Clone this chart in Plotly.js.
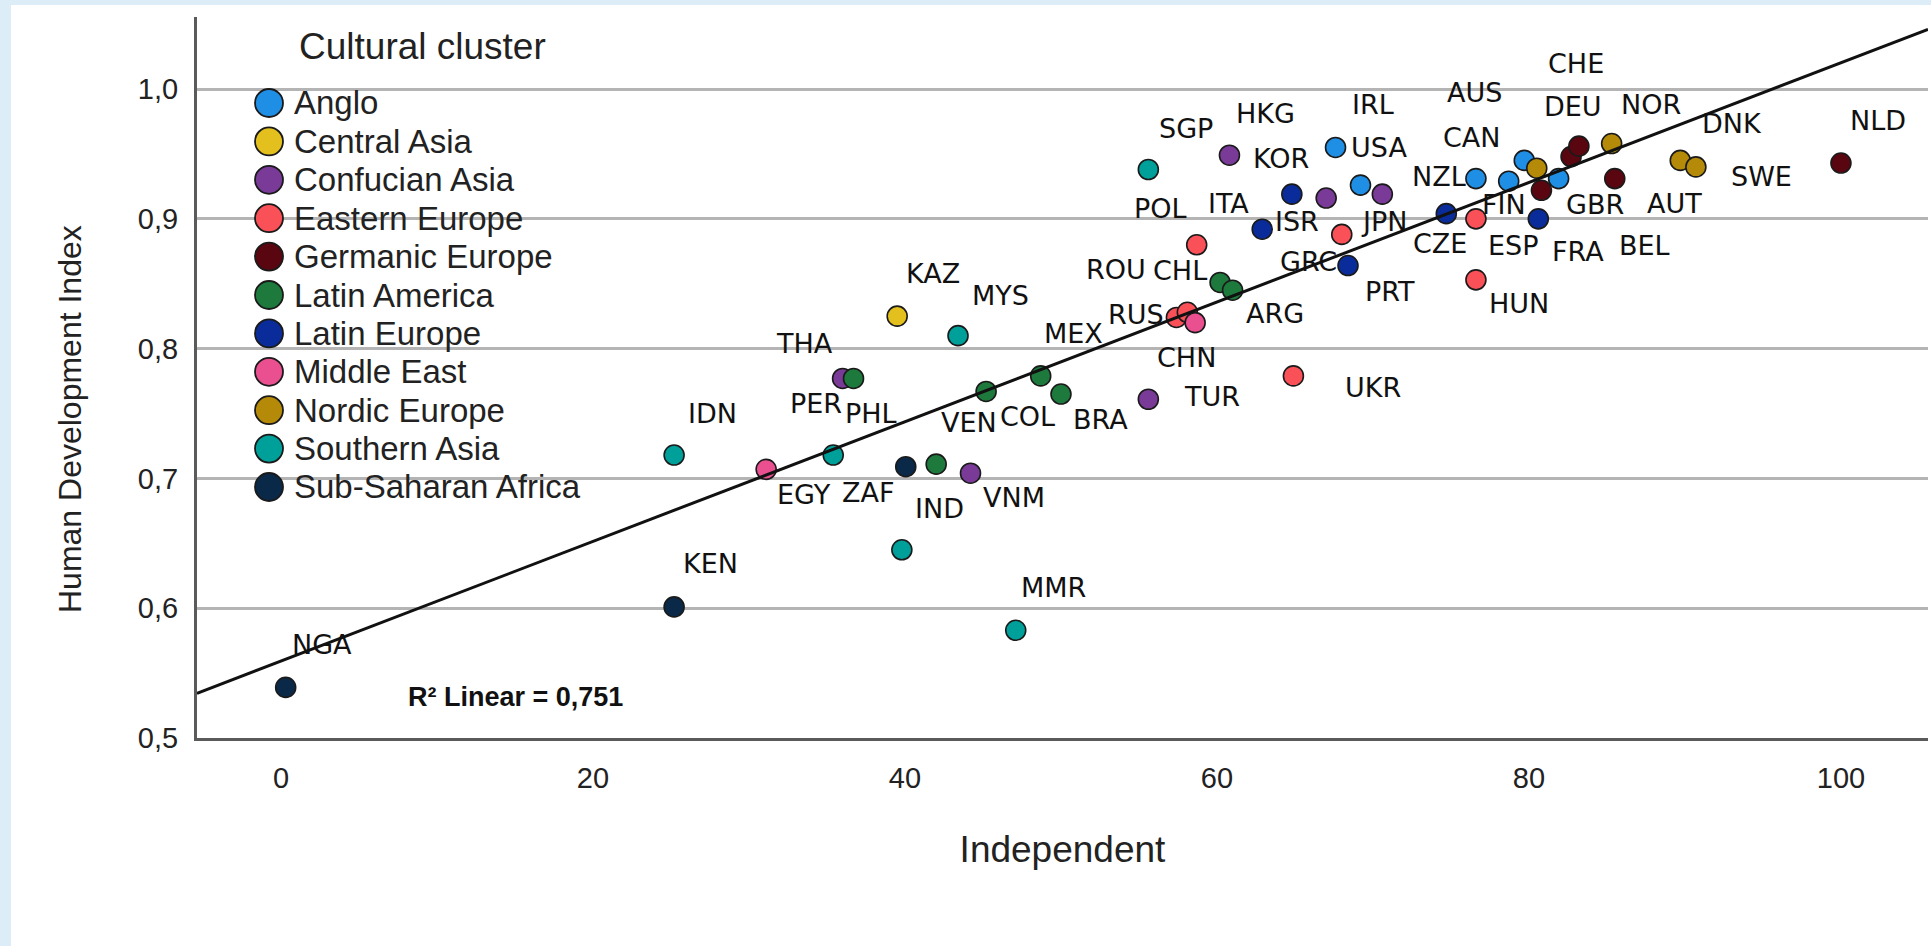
<!DOCTYPE html>
<html>
<head>
<meta charset="utf-8">
<script src="https://cdn.plot.ly/plotly-3.0.1.min.js"></script>
<style>
  html, body { margin: 0; padding: 0; background: #dcedf7; overflow: hidden; }
  #chart { position: absolute; left: 11px; top: 5px; width: 1920px; height: 941px; background: #ffffff; }
</style>
</head>
<body>
<div id="chart"></div>
<script>
// ---------------- DATA ----------------
const clusterNames = ['Anglo', 'Central Asia', 'Confucian Asia', 'Eastern Europe', 'Germanic Europe',
  'Latin America', 'Latin Europe', 'Middle East', 'Nordic Europe', 'Southern Asia', 'Sub-Saharan Africa'];

const countryCodes = ['NGA','KEN','IDN','EGY','PHL','THA','PER','ZAF','IND','KAZ','VEN','MYS','VNM','COL','MMR',
  'MEX','BRA','CHN','SGP','RUS','ROU','TUR','POL','CHL','HKG','ARG','ITA','ISR','UKR','KOR','IRL','GRC','PRT',
  'USA','JPN','ESP','NZL','CZE','HUN','CAN','AUS','FIN','FRA','AUT','GBR','DEU','CHE','NOR','BEL','SWE','DNK','NLD'];

const independentScore = [0.3, 25.2, 25.2, 31.1, 35.4, 36.0, 36.7, 40.05, 39.8, 39.5, 42.0, 43.4, 44.2, 45.2, 47.1,
  48.7, 50.0, 55.6, 55.6, 57.4, 58.1, 58.6, 58.7, 60.2, 60.8, 61.0, 62.9, 64.8, 64.9, 67.0, 67.6, 68.0, 68.4,
  69.2, 70.6, 74.7, 76.6, 76.6, 76.6, 78.7, 79.7, 80.5, 80.6, 80.8, 81.9, 82.7, 83.2, 85.3, 85.5, 89.7, 90.7, 100.0];

const hdiValues = [0.539, 0.601, 0.718, 0.707, 0.718, 0.777, 0.777, 0.709, 0.645, 0.825, 0.711, 0.810, 0.704, 0.767, 0.583,
  0.779, 0.765, 0.761, 0.938, 0.824, 0.828, 0.820, 0.880, 0.851, 0.949, 0.845, 0.892, 0.919, 0.779, 0.916, 0.955, 0.888, 0.864,
  0.926, 0.919, 0.904, 0.931, 0.900, 0.853, 0.929, 0.945, 0.939, 0.900, 0.922, 0.931, 0.948, 0.956, 0.958, 0.931, 0.945, 0.940, 0.943];

const countryCluster = ['Sub-Saharan Africa','Sub-Saharan Africa','Southern Asia','Middle East','Southern Asia',
  'Confucian Asia','Latin America','Sub-Saharan Africa','Southern Asia','Central Asia','Latin America','Southern Asia',
  'Confucian Asia','Latin America','Southern Asia','Latin America','Latin America','Confucian Asia','Southern Asia',
  'Eastern Europe','Eastern Europe','Middle East','Eastern Europe','Latin America','Confucian Asia','Latin America',
  'Latin Europe','Latin Europe','Eastern Europe','Confucian Asia','Anglo','Eastern Europe','Latin Europe',
  'Anglo','Confucian Asia','Latin Europe','Anglo','Eastern Europe','Eastern Europe','Anglo','Anglo','Nordic Europe',
  'Latin Europe','Germanic Europe','Anglo','Germanic Europe','Germanic Europe','Nordic Europe','Germanic Europe',
  'Nordic Europe','Nordic Europe','Germanic Europe'];

const xTickValues = [0, 20, 40, 60, 80, 100];
const rSquaredText = 'R² Linear = 0,751';
const legendTitle = 'Cultural cluster';
const xTitle = 'Independent';
const yTitle = 'Human Development Index';

// ---------------- STYLE ----------------
const clusterColors = {
  'Anglo': '#1f8fe6', 'Central Asia': '#e4c01e', 'Confucian Asia': '#7a3a98', 'Eastern Europe': '#fa5058',
  'Germanic Europe': '#5a0610', 'Latin America': '#1e7a3c', 'Latin Europe': '#0a2c9a', 'Middle East': '#ea5090',
  'Nordic Europe': '#b48a08', 'Southern Asia': '#00a09a', 'Sub-Saharan Africa': '#0a2848'
};

// label offsets from the point, in pixels: [right, down]
const labelOffsets = {
  NGA:[36,-43], KEN:[36,-43], IDN:[38,-42], EGY:[38,25], PHL:[38,-42], THA:[-38,-35], PER:[-38,25], ZAF:[-37,26],
  IND:[38,-41], KAZ:[36,-43], VEN:[33,-42], MYS:[42,-40], VNM:[43,24], COL:[41,25], MMR:[38,-43], MEX:[33,-42],
  BRA:[40,25], CHN:[38,-42], SGP:[38,-41], RUS:[-40,-3], ROU:[-71,-43], TUR:[17,74], POL:[-36,-36], CHL:[-40,-12],
  HKG:[36,-42], ARG:[42,23], ITA:[-34,-26], ISR:[5,27], UKR:[80,12], KOR:[-45,-40], IRL:[37,-43], GRC:[-33,27],
  PRT:[42,26], USA:[19,-38], JPN:[2,27], ESP:[67,32], NZL:[-37,-2], CZE:[-36,25], HUN:[43,24], CAN:[-37,-44],
  AUS:[-50,-68], FIN:[-33,36], FRA:[40,33], AUT:[133,13], GBR:[36,26], DEU:[2,-50], CHE:[-3,-83], NOR:[39,-39],
  BEL:[30,67], SWE:[81,16], DNK:[36,-43], NLD:[37,-43]
};

const W = 1920, H = 941;
const M = { l: 186, r: 3, t: 12, b: 208 };
const plotW = W - M.l - M.r, plotH = H - M.t - M.b;
// convert a pixel position inside the chart div to paper coordinates
const px2paperX = p => (p - M.l) / plotW;
const px2paperY = p => (H - M.b - p) / plotH;

const xRange = [-5.385, 105.58];
const yRange = [0.5, 1.0555];
const baseFont = 'Liberation Sans, Arial, sans-serif';

// ---------------- TRACES ----------------
const traces = clusterNames.map(name => {
  const idx = countryCodes.map((c, i) => i).filter(i => countryCluster[i] === name);
  return {
    type: 'scatter', mode: 'markers', name: name, showlegend: false,
    x: idx.map(i => independentScore[i]),
    y: idx.map(i => hdiValues[i]),
    text: idx.map(i => countryCodes[i]),
    marker: { size: 20, color: clusterColors[name], line: { color: '#1a1a1a', width: 1.6 } },
    hovertemplate: '%{text}: %{x}, %{y}<extra>' + name + '</extra>'
  };
});

// linear fit (least squares) of HDI on the independent score
const n = independentScore.length;
const mx = independentScore.reduce((a, b) => a + b, 0) / n;
const my = hdiValues.reduce((a, b) => a + b, 0) / n;
let sxy = 0, sxx = 0;
for (let i = 0; i < n; i++) { sxy += (independentScore[i] - mx) * (hdiValues[i] - my); sxx += (independentScore[i] - mx) ** 2; }
const slope = sxy / sxx;
const intercept = my - slope * mx;
traces.push({
  type: 'scatter', mode: 'lines', showlegend: false, hoverinfo: 'skip',
  x: xRange, y: xRange.map(v => intercept + slope * v),
  line: { color: '#111111', width: 3 }
});

// ---------------- ANNOTATIONS ----------------
const annotations = countryCodes.map((c, i) => ({
  x: independentScore[i], y: hdiValues[i], xref: 'x', yref: 'y', text: c, showarrow: false,
  xanchor: 'center', yanchor: 'middle',
  xshift: labelOffsets[c][0], yshift: -labelOffsets[c][1],
  font: { family: 'DejaVu Sans, sans-serif', size: 27, color: '#111111' }
}));
annotations.push({
  x: 15.0, y: 0.5315, xref: 'x', yref: 'y', text: rSquaredText, showarrow: false,
  xanchor: 'center', yanchor: 'middle',
  font: { family: baseFont, size: 27, color: '#111111', weight: 'bold' }
});
// y axis title (placed like the reference, below the plot centre)
annotations.push({
  x: px2paperX(59), y: px2paperY(414), xref: 'paper', yref: 'paper', text: yTitle, showarrow: false,
  textangle: -90, xanchor: 'center', yanchor: 'middle',
  font: { family: baseFont, size: 32, color: '#222222' }
});

// ---------------- LEGEND (cluster key) ----------------
const shapes = [];
const legendMarkerX = 258, legendTextX = 281, legendFirstY = 98, legendStep = 38.4;
annotations.push({
  x: px2paperX(411), y: px2paperY(42), xref: 'paper', yref: 'paper', text: legendTitle, showarrow: false,
  xanchor: 'center', yanchor: 'middle', font: { family: baseFont, size: 37, color: '#222222' }
});
clusterNames.forEach((name, k) => {
  const py = legendFirstY + k * legendStep;
  shapes.push({
    type: 'circle', xref: 'paper', yref: 'paper', xsizemode: 'pixel', ysizemode: 'pixel',
    xanchor: px2paperX(legendMarkerX), yanchor: px2paperY(py),
    x0: -14, x1: 14, y0: -14, y1: 14,
    fillcolor: clusterColors[name], line: { color: '#1a1a1a', width: 1.8 }, layer: 'above'
  });
  annotations.push({
    x: px2paperX(legendTextX), y: px2paperY(py), xref: 'paper', yref: 'paper', text: name, showarrow: false,
    xanchor: 'left', yanchor: 'middle', font: { family: baseFont, size: 33, color: '#222222' }
  });
});

const layout = {
  width: W, height: H,
  margin: M,
  paper_bgcolor: '#ffffff', plot_bgcolor: '#ffffff',
  separators: ',.',
  showlegend: false,
  xaxis: {
    range: xRange, tickvals: xTickValues, ticks: '', showgrid: false, zeroline: false,
    showline: true, linecolor: '#5a5a5a', linewidth: 3,
    ticklabelstandoff: 12,
    tickfont: { family: baseFont, size: 29, color: '#222222' },
    title: { text: xTitle, standoff: 44, font: { family: baseFont, size: 37, color: '#222222' } }
  },
  yaxis: {
    range: yRange, tick0: 0.5, dtick: 0.1, tickformat: '.1f', ticks: '', zeroline: false,
    showgrid: true, gridcolor: '#b4b4b4', gridwidth: 3,
    showline: true, linecolor: '#5a5a5a', linewidth: 3,
    ticklabelstandoff: 10,
    tickfont: { family: baseFont, size: 29, color: '#222222' }
  },
  shapes: shapes,
  annotations: annotations
};

Plotly.newPlot('chart', traces, layout, { displayModeBar: false, responsive: false, staticPlot: true });
</script>
</body>
</html>
